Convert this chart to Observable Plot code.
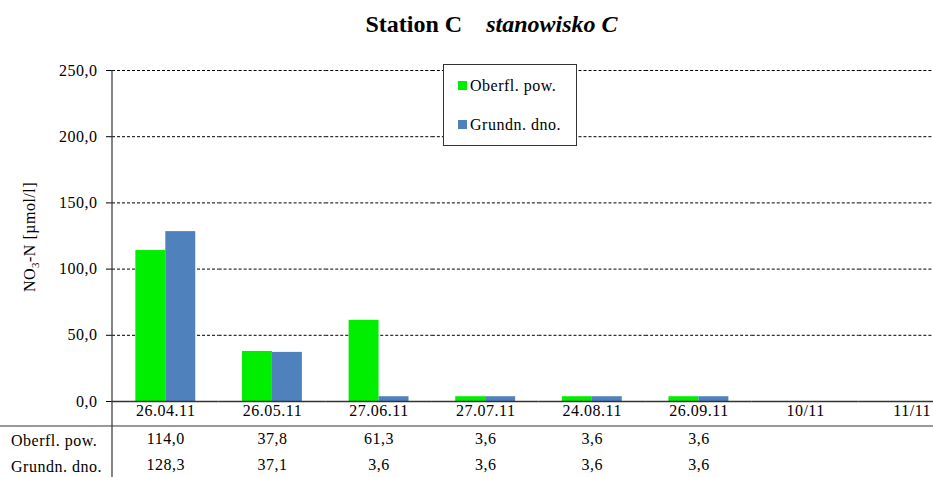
<!DOCTYPE html>
<html>
<head>
<meta charset="utf-8">
<script src="https://cdn.jsdelivr.net/npm/d3@7"></script>
<script src="https://cdn.jsdelivr.net/npm/@observablehq/plot@0.6"></script>
<style>
  body { margin: 0; background: white; }
  #title { height: 50px; line-height: 48px; text-align: center; padding-left: 50px; box-sizing: border-box; width: 933px;
    font-family: "Liberation Serif", "Times New Roman", "DejaVu Serif", serif; font-weight: bold; font-size: 24px; color: black; }
  #title i { margin-left: 18px; }
</style>
</head>
<body>
<div id="title">Station C <i>stanowisko C</i></div>
<div id="chart"></div>
<script>
const dates = ["26.04.11", "26.05.11", "27.06.11", "27.07.11", "24.08.11", "26.09.11", "10/11", "11/11"];
const seriesNames = ["Oberfl. pow.", "Grundn. dno."];
const oberfl = [114.0, 37.8, 61.3, 3.6, 3.6, 3.6, null, null];
const grundn = [128.3, 37.1, 3.6, 3.6, 3.6, 3.6, null, null];
const yTicks = [0, 50, 100, 150, 200, 250];
const colors = ["#00ee00", "#4f81bd"];
const FONT = "'Liberation Serif', 'Times New Roman', 'DejaVu Serif', serif";

const fmt = v => v.toFixed(1).replace(".", ",");
const data = [];
dates.forEach((d, i) => {
  if (oberfl[i] != null) data.push({date: d, series: seriesNames[0], value: oberfl[i]});
  if (grundn[i] != null) data.push({date: d, series: seriesNames[1], value: grundn[i]});
});
const row1 = dates.map((d, i) => ({date: d, value: oberfl[i]})).filter(r => r.value != null);
const row2 = dates.map((d, i) => ({date: d, value: grundn[i]})).filter(r => r.value != null);
const gridRows = dates.flatMap(d => yTicks.slice(1).map(t => ({date: d, y: t})));
const baseRows = dates.map(d => ({date: d, y: 0}));

const plot = Plot.plot({
  width: 933,
  height: 427,
  marginTop: 20,
  marginBottom: 76,
  marginLeft: 112,
  marginRight: -32,
  style: {fontFamily: FONT, fontSize: "16px", color: "black", background: "white", overflow: "visible", letterSpacing: "0.5px"},
  fx: {domain: dates, padding: 0, label: null, round: false},
  x: {domain: seriesNames, paddingInner: 0, paddingOuter: 0.78, axis: null, round: false},
  y: {domain: [0, 250], label: null},
  color: {domain: seriesNames, range: colors},
  marks: [
    Plot.ruleY(gridRows, {fx: "date", y: "y", stroke: "black", strokeDasharray: "3,2"}),
    Plot.barY(data, {fx: "date", x: "series", y: "value", fill: "series"}),
    Plot.ruleY(baseRows, {fx: "date", y: "y", stroke: "#333", strokeWidth: 1.5}),
    Plot.axisY(yTicks, {tickFormat: fmt, tickSize: 6, tickPadding: 9, label: null, fontSize: 16}),
    Plot.axisFx({anchor: "bottom", tickSize: 0, tickPadding: 3, label: null, fontSize: 16, style: {letterSpacing: "1.2px"}}),
    Plot.text(row1, {fx: "date", text: d => fmt(d.value), frameAnchor: "bottom", dy: 42, fontSize: 16}),
    Plot.text(row2, {fx: "date", text: d => fmt(d.value), frameAnchor: "bottom", dy: 68, fontSize: 16})
  ]
});
document.getElementById("chart").appendChild(plot);

const svg = d3.select(plot);
// table lines
svg.append("line").attr("x1", 0).attr("x2", 933).attr("y1", 376).attr("y2", 376).attr("stroke", "#333").attr("stroke-width", 1.2);
svg.append("line").attr("x1", 112).attr("x2", 112).attr("y1", 20).attr("y2", 427).attr("stroke", "#333").attr("stroke-width", 1.2);
// row labels
seriesNames.forEach((s, i) => {
  svg.append("text").attr("x", 11).attr("y", 390 + 26 * i).attr("dy", "0.35em").attr("text-anchor", "start")
    .attr("font-family", FONT).attr("font-size", 16).attr("fill", "black").text(s);
});
// y label
const yl = svg.append("text").attr("transform", "translate(35,187) rotate(-90)")
  .attr("text-anchor", "middle").attr("font-family", FONT).attr("font-size", 16).attr("fill", "black");
yl.append("tspan").text("NO");
yl.append("tspan").attr("font-size", 11).attr("dy", 4).text("3");
yl.append("tspan").attr("dy", -4).text("-N [µmol/l]");
// legend
const lg = svg.append("g");
lg.append("rect").attr("x", 443.5).attr("y", 14.5).attr("width", 133).attr("height", 81).attr("fill", "white").attr("stroke", "#333");
seriesNames.forEach((s, i) => {
  lg.append("rect").attr("x", 458).attr("y", 31 + 39 * i).attr("width", 9).attr("height", 9).attr("fill", colors[i]);
  lg.append("text").attr("x", 470).attr("y", 35.5 + 39 * i).attr("dy", "0.35em").attr("text-anchor", "start")
    .attr("font-family", FONT).attr("font-size", 16).attr("fill", "black").text(s);
});
</script>
</body>
</html>
